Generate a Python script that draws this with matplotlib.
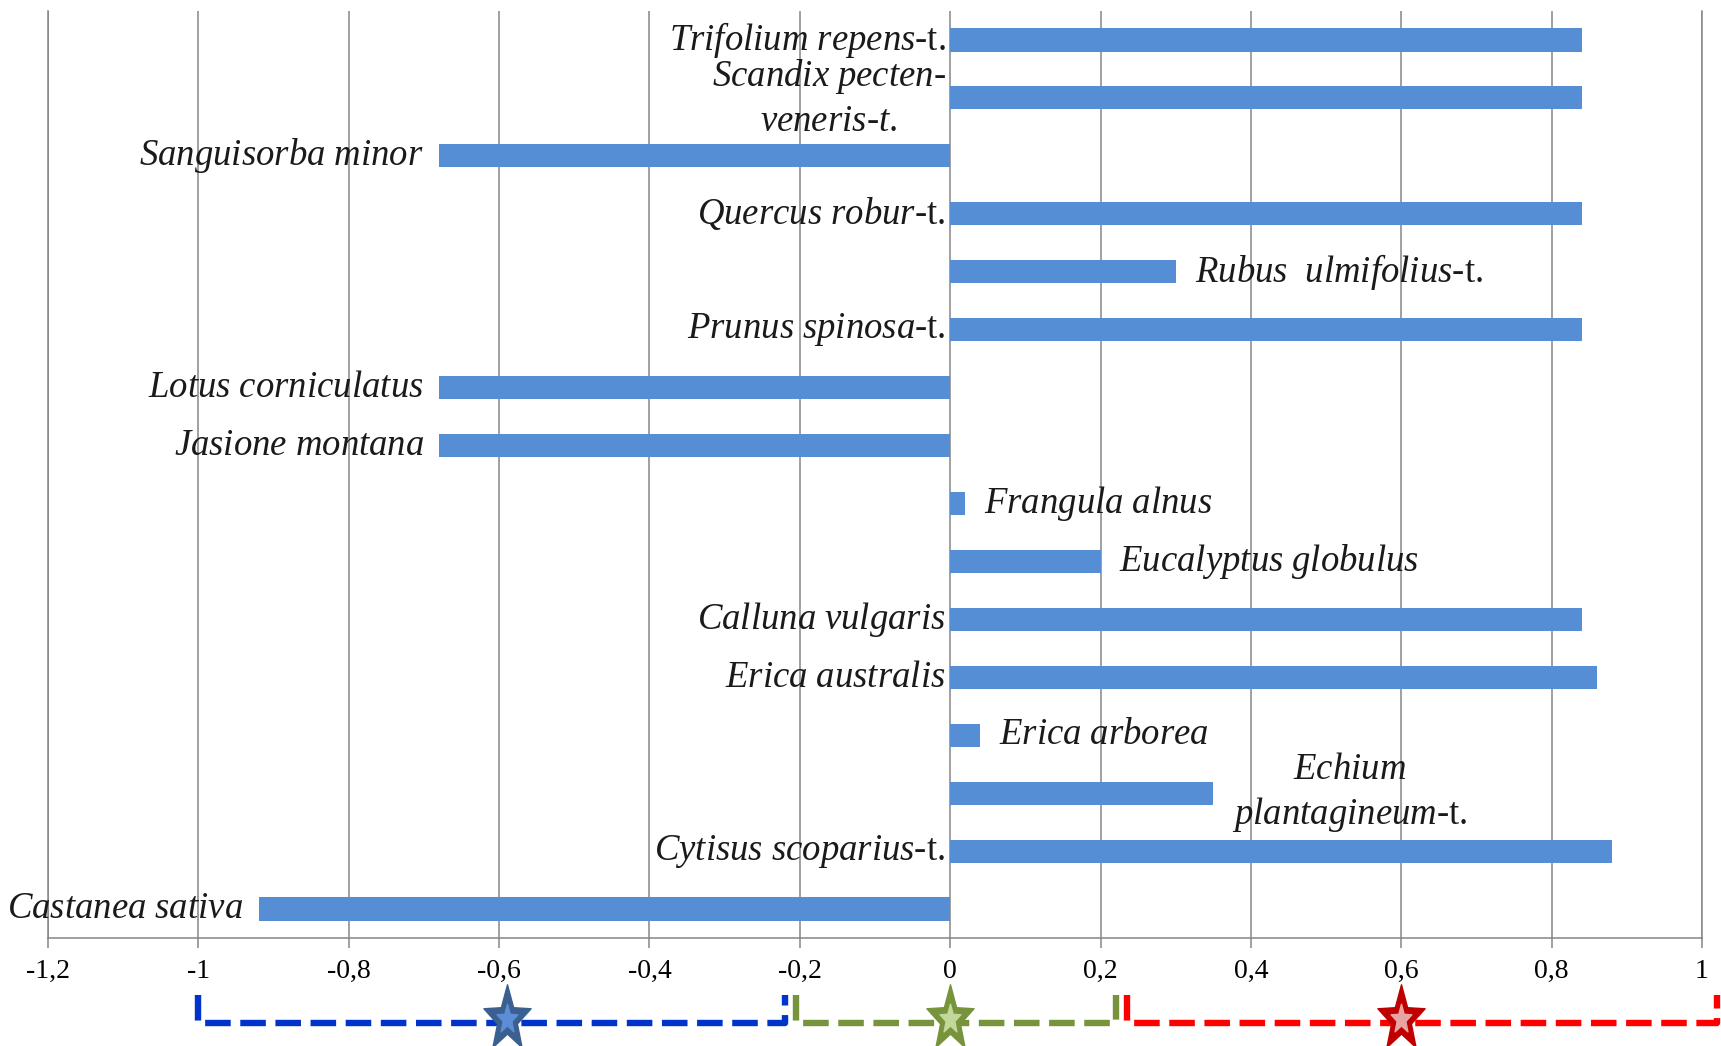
import numpy as np
import matplotlib.pyplot as plt
from matplotlib.path import Path
from matplotlib.transforms import blended_transform_factory

plt.rcParams['font.family'] = 'Liberation Serif'
plt.rcParams['mathtext.fontset'] = 'custom'
plt.rcParams['mathtext.it'] = 'Liberation Serif:italic'
plt.rcParams['mathtext.rm'] = 'Liberation Serif'
plt.rcParams['axes.unicode_minus'] = False

# espécies (de cima para baixo) e valores
especies = [
    r'$\mathit{Trifolium\ repens}$-t.',
    '$\\mathit{Scandix\\ pecten}$-\n$\\mathit{veneris}$-$\\mathit{t.}$',
    r'$\mathit{Sanguisorba\ minor}$',
    r'$\mathit{Quercus\ robur}$-t.',
    r'$\mathit{Rubus\ \ ulmifolius}$-t.',
    r'$\mathit{Prunus\ spinosa}$-t.',
    r'$\mathit{Lotus\ corniculatus}$',
    r'$\mathit{Jasione\ montana}$',
    r'$\mathit{Frangula\ alnus}$',
    r'$\mathit{Eucalyptus\ globulus}$',
    r'$\mathit{Calluna\ vulgaris}$',
    r'$\mathit{Erica\ australis}$',
    r'$\mathit{Erica\ arborea}$',
    '$\\mathit{Echium}$\n$\\mathit{plantagineum}$-t.',
    r'$\mathit{Cytisus\ scoparius}$-t.',
    r'$\mathit{Castanea\ sativa}$',
]
valores = [0.84, 0.84, -0.68, 0.84, 0.30, 0.84, -0.68, -0.68,
           0.02, 0.20, 0.84, 0.86, 0.04, 0.35, 0.88, -0.92]
# 'in' = rótulo encostado no zero, 'out' = rótulo depois da ponta da barra
lado = ['in', 'in', 'out', 'in', 'out', 'in', 'out', 'out',
        'out', 'out', 'in', 'in', 'out', 'out', 'in', 'out']

ticks = [-1.2, -1.0, -0.8, -0.6, -0.4, -0.2, 0.0, 0.2, 0.4, 0.6, 0.8, 1.0]
tick_labels = ['-1,2', '-1', '-0,8', '-0,6', '-0,4', '-0,2', '0', '0,2', '0,4', '0,6', '0,8', '1']

# faixas da legenda em baixo
faixas = [(-1.0, -0.22), (-0.205, 0.22), (0.235, 1.02)]
faixas_cores = ['#0033CC', '#77933C', '#FF0000']
estrelas_x = [-0.59, 0.0, 0.6]
estrelas_cor = ['#3B5F8E', '#77933C', '#C00000']
estrelas_int = ['#5B8ED6', '#C4D79B', '#E8A3A3']


def estrela(esticar=1.4, r_int=0.42):
    ang = np.pi / 2 + np.arange(10) * np.pi / 5
    r = np.where(np.arange(10) % 2 == 0, 1.0, r_int)
    verts = np.column_stack([r * np.cos(ang), r * np.sin(ang) * esticar])
    return Path(np.vstack([verts, verts[:1]]), closed=True)


fig = plt.figure(figsize=(17.21, 10.46), dpi=100)
ax = fig.add_axes([48 / 1721, 108 / 1046, 1654 / 1721, 927 / 1046])

y = np.arange(len(valores))
ax.barh(y, valores, height=0.4, color='#558ED5', zorder=3)
ax.set_ylim(len(valores) - 0.5, -0.5)
ax.set_xlim(-1.2, 1.0)

for i, (txt, v, s) in enumerate(zip(especies, valores, lado)):
    if s == 'in':
        x, ha = -0.006, 'right'
    elif v < 0:
        x, ha = v - 0.02, 'right'
    else:
        x, ha = v + 0.025, 'left'
    ax.text(x, i, txt, ha=ha, va='center', fontsize=26.5, color='#1a1a1a',
            multialignment='center', zorder=4, linespacing=1.3)

ax.set_xticks(ticks)
ax.set_xticklabels(tick_labels)
ax.grid(axis='x', color='#868686', lw=1.1)
ax.set_axisbelow(True)
ax.spines['top'].set_visible(False)
for s in ['left', 'right', 'bottom']:
    ax.spines[s].set_color('#868686')
    ax.spines[s].set_linewidth(1.1)
ax.tick_params(axis='x', direction='out', length=7, width=1.1, color='#868686',
               labelsize=20, pad=8)
ax.tick_params(axis='y', left=False, labelleft=False)

trans = blended_transform_factory(ax.transData, ax.transAxes)
y_top, y_bot = -0.061, -0.092
for (x0, x1), c in zip(faixas, faixas_cores):
    ax.plot([x0, x0, x1, x1], [y_top, y_bot, y_bot, y_top], transform=trans,
            color=c, lw=4.6, ls=(0, (4, 1.5)), clip_on=False, zorder=5)

forma = estrela()
for x, c, ci in zip(estrelas_x, estrelas_cor, estrelas_int):
    ax.plot([x], [-0.087], marker=forma, ms=50, color=c, mec=c, transform=trans,
            clip_on=False, zorder=6, ls='none')
    ax.plot([x], [-0.087], marker=forma, ms=22, color=ci, mec=ci, transform=trans,
            clip_on=False, zorder=7, ls='none')

fig.savefig('out.png', dpi=100)
